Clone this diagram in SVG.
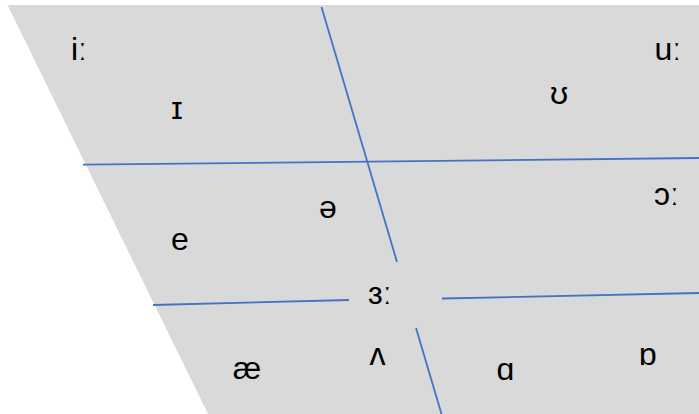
<svg xmlns="http://www.w3.org/2000/svg" width="699" height="414" viewBox="0 0 699 414">
  <style>
    .grid { stroke: #4472C4; stroke-width: 1.8; fill: none; }
    .v { font-family: "Liberation Sans", "DejaVu Sans", Arial, sans-serif; font-size: 32px; fill: #000; }
    .c { text-anchor: middle; }
  </style>
  <!-- vowel quadrilateral -->
  <polygon id="chart" points="7.5,5 699,5 699,414 208,414" fill="#D9D9D9"/>
  <!-- dividing lines -->
  <g id="lines" class="grid">
    <line x1="321.5" y1="7" x2="397" y2="262"/>
    <line x1="416" y1="328" x2="441.5" y2="414"/>
    <line x1="83" y1="164.7" x2="699" y2="158"/>
    <line x1="153" y1="305" x2="349" y2="300"/>
    <line x1="442" y1="298.5" x2="699" y2="293"/>
  </g>
  <!-- vowel symbols -->
  <g id="vowels" class="v">
    <text x="71" y="60">iː</text>
    <text class="c" x="177" y="119">ɪ</text>
    <text x="654.5" y="60">uː</text>
    <text class="c" x="559" y="103.5">ʊ</text>
    <text x="654" y="205">ɔː</text>
    <text class="c" x="328" y="218">ə</text>
    <text class="c" x="180" y="250">e</text>
    <text x="368" y="303.5">ɜː</text>
    <text class="c" x="377.5" y="364.5">ʌ</text>
    <text class="c" x="247" y="379">æ</text>
    <text class="c" x="505.5" y="380">ɑ</text>
    <text class="c" x="648" y="365">ɒ</text>
  </g>
</svg>
